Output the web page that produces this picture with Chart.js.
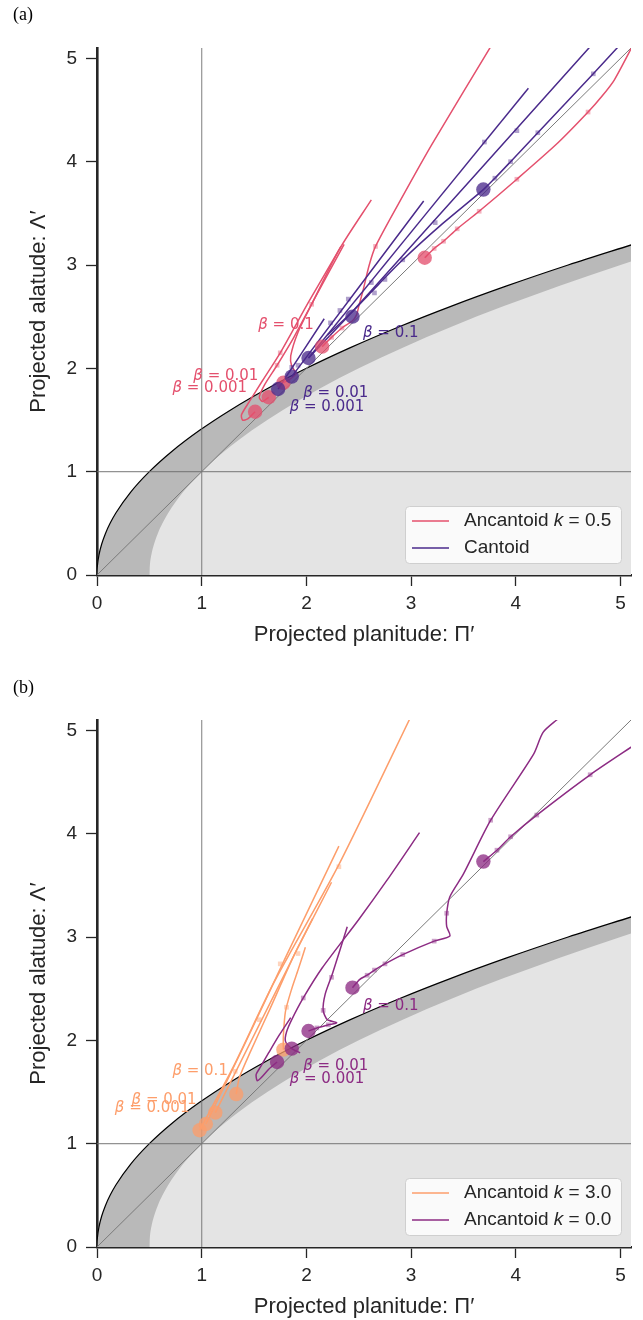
<!DOCTYPE html>
<html>
<head>
<meta charset="utf-8">
<script src="https://cdn.jsdelivr.net/npm/chart.js@4.4.1/dist/chart.umd.min.js"></script>
<style>
  html, body { margin: 0; padding: 0; background: #fff; }
  #wrap { position: relative; width: 643px; height: 1320px; overflow: hidden; }
  .panel { position: absolute; left: 0; width: 643px; }
  .tag { position: absolute; left: 13px; font-family: "Liberation Serif", "Times New Roman", serif; font-size: 18px; color: #000; line-height: 1; }
</style>
</head>
<body>
<div id="wrap">
  <div class="panel" style="top:0;height:672px"><canvas id="panelA" width="643" height="672"></canvas></div>
  <div class="panel" style="top:672px;height:648px"><canvas id="panelB" width="643" height="648"></canvas></div>
  <div class="tag" style="top:5px">(a)</div>
  <div class="tag" style="top:678px">(b)</div>
</div>
<script>
// ---- axis ticks (both panels) ----
const axisTicks = [0, 1, 2, 3, 4, 5];

// ---- edges of the shaded region, [Π′, Λ′] ----
const upperEdge = [[0,0],[0.00125,0.05],[0.005,0.1],[0.02,0.2],[0.045,0.3],[0.08,0.4],[0.125,0.5],[0.18,0.6],[0.32,0.8],[0.5,1.0],[0.72,1.2],[0.98,1.4],[1.28,1.6],[1.62,1.8],[2.0,2.0],[2.42,2.2],[2.88,2.4],[3.38,2.6],[3.92,2.8],[4.5,3.0],[5.12,3.2]];
const lowerEdge = [[0.5,0],[0.50125,0.05],[0.505,0.1],[0.52,0.2],[0.545,0.3],[0.58,0.4],[0.625,0.5],[0.68,0.6],[0.82,0.8],[1.0,1.0],[1.22,1.2],[1.48,1.4],[1.78,1.6],[2.12,1.8],[2.5,2.0],[2.92,2.2],[3.38,2.4],[3.88,2.6],[4.42,2.8],[5.0,3.0],[5.62,3.2]];
const diagonal = [[0,0],[5.1,5.1]];
const unitPlanitude = [[1,0],[1,5.1]];
const unitAlatude = [[0,1],[5.1,1]];

// ---- panel (a): Ancantoid k = 0.5 ----
const ancantoidHalfPaths = [
  [[1.51,1.58],[1.44,1.51],[1.39,1.50],[1.38,1.55],[1.45,1.67],[1.58,1.88],[1.75,2.15],[2.02,2.64],[2.33,3.18]],
  [[1.64,1.72],[1.58,1.68],[1.55,1.72],[1.60,1.84],[1.72,2.03],[1.88,2.30],[2.07,2.66],[2.36,3.20]],
  [[1.78,1.86],[1.85,1.90],[1.90,1.95],[1.86,2.02],[1.85,2.12],[1.92,2.35],[2.05,2.62],[2.32,3.16],[2.62,3.63]],
  [[2.15,2.21],[2.24,2.30],[2.34,2.39],[2.44,2.46],[2.48,2.52],[2.50,2.60],[2.54,2.75],[2.60,3.00],[2.66,3.18],[2.90,3.63],[3.20,4.17],[3.80,5.18]],
  [[3.13,3.07],[3.22,3.16],[3.31,3.23],[3.44,3.35],[3.65,3.52],[4.01,3.83],[4.40,4.18],[4.69,4.48],[4.82,4.63],[4.94,4.79],[5.13,5.15]]
];
const ancantoidHalfDots = [[1.51,1.58],[1.64,1.72],[1.78,1.86],[2.15,2.21],[3.13,3.07]];
const ancantoidHalfTicks = [[1.75,2.15],[1.72,2.03],[2.05,2.62],[2.24,2.30],[2.34,2.39],[2.66,3.18],[3.22,3.16],[3.31,3.23],[3.44,3.35],[3.65,3.52],[4.01,3.83],[4.69,4.48]];

// ---- panel (a): Cantoid ----
const cantoidPaths = [
  [[1.73,1.80],[2.17,2.48]],
  [[1.86,1.92],[3.12,3.62]],
  [[2.02,2.10],[4.12,4.71]],
  [[2.02,2.10],[2.44,2.55],[4.76,5.17]],
  [[2.20,2.32],[2.45,2.56],[2.62,2.74],[2.92,3.05],[3.30,3.40],[3.69,3.73],[3.80,3.84],[3.95,4.00],[4.21,4.28],[4.74,4.85],[5.03,5.17]]
];
const cantoidDots = [[1.73,1.80],[1.86,1.92],[2.02,2.10],[2.44,2.50],[3.69,3.73]];
const cantoidTicks = [[1.86,2.01],[1.92,2.03],[2.23,2.44],[2.32,2.56],[2.40,2.67],[2.62,2.83],[2.65,2.73],[2.75,2.86],[2.92,3.05],[3.23,3.41],[3.70,4.19],[4.01,4.30],[3.80,3.84],[3.95,4.00],[4.21,4.28],[4.74,4.85]];

// ---- panel (b): Ancantoid k = 3.0 ----
const ancantoidThreePaths = [
  [[0.98,1.13],[1.30,1.74],[1.69,2.56],[2.31,3.70],[3.02,5.18]],
  [[1.04,1.19],[1.40,1.94],[1.80,2.80],[2.31,3.88]],
  [[1.13,1.30],[1.50,2.05],[1.90,2.86],[2.24,3.53]],
  [[1.33,1.48],[1.36,1.64],[1.47,1.90],[1.65,2.30],[1.88,2.82],[2.06,3.18]],
  [[1.78,1.91],[1.78,2.04],[1.80,2.28],[1.86,2.50],[1.92,2.68],[1.99,2.90]]
];
const ancantoidThreeDots = [[0.98,1.13],[1.04,1.19],[1.13,1.30],[1.33,1.48],[1.78,1.91]];
const ancantoidThreeTicks = [[1.32,1.70],[1.55,2.20],[1.75,2.74],[1.81,2.32],[1.92,2.84],[2.31,3.68]];

// ---- panel (b): Ancantoid k = 0.0 ----
const ancantoidZeroPaths = [
  [[1.72,1.79],[1.64,1.72],[1.56,1.63],[1.53,1.61],[1.52,1.67],[1.56,1.74],[1.64,1.88],[1.74,2.05],[1.85,2.22]],
  [[1.94,1.88],[1.86,1.92],[1.80,1.99],[1.81,2.08],[1.86,2.20],[1.97,2.41],[2.15,2.70],[2.50,3.17],[2.77,3.55],[3.08,4.01]],
  [[2.02,2.09],[2.10,2.12],[2.21,2.15],[2.29,2.17],[2.20,2.20],[2.16,2.29],[2.18,2.45],[2.25,2.65],[2.39,3.10]],
  [[2.44,2.51],[2.51,2.59],[2.58,2.63],[2.65,2.68],[2.75,2.74],[2.92,2.83],[3.22,2.96],[3.37,3.01],[3.34,3.10],[3.34,3.23],[3.37,3.39],[3.50,3.61],[3.76,4.13],[4.17,4.77],[4.26,4.98],[4.39,5.10],[4.47,5.16]],
  [[3.69,3.73],[3.82,3.84],[3.95,3.97],[4.20,4.18],[4.71,4.57],[5.15,4.87]]
];
const ancantoidZeroDots = [[1.72,1.79],[1.86,1.92],[2.02,2.09],[2.44,2.51],[3.69,3.73]];
const ancantoidZeroTicks = [[2.10,2.12],[2.21,2.15],[1.97,2.41],[2.24,2.61],[2.16,2.29],[2.58,2.63],[2.65,2.68],[2.75,2.74],[2.92,2.83],[3.22,2.96],[3.34,3.23],[3.76,4.13],[3.82,3.84],[3.95,3.97],[4.20,4.18],[4.71,4.57]];

// ---- β annotations: value and anchor (left, middle) in data units ----
const betaValues = ['0.1', '0.01', '0.001'];
const betaSpotsHalf = [[1.54,2.42],[0.92,1.92],[0.72,1.81]];
const betaSpotsCantoid = [[2.54,2.34],[1.97,1.76],[1.84,1.62]];
const betaSpotsThree = [[0.72,1.70],[0.33,1.42],[0.17,1.34]];
const betaSpotsZero = [[2.54,2.33],[1.97,1.75],[1.84,1.62]];

// ---- colours ----
const PINK = '#e4506d';
const INDIGO = '#4a2a8b';
const ORANGE = '#fd9e6b';
const PLUM = '#8c2b83';
const INK = '#262626';

const familyHalf = { name: 'Ancantoid', k: '0.5', color: PINK, paths: ancantoidHalfPaths, dots: ancantoidHalfDots, ticks: ancantoidHalfTicks, spots: betaSpotsHalf };
const familyCantoid = { name: 'Cantoid', k: null, color: INDIGO, paths: cantoidPaths, dots: cantoidDots, ticks: cantoidTicks, spots: betaSpotsCantoid };
const familyThree = { name: 'Ancantoid', k: '3.0', color: ORANGE, paths: ancantoidThreePaths, dots: ancantoidThreeDots, ticks: ancantoidThreeTicks, spots: betaSpotsThree };
const familyZero = { name: 'Ancantoid', k: '0.0', color: PLUM, paths: ancantoidZeroPaths, dots: ancantoidZeroDots, ticks: ancantoidZeroTicks, spots: betaSpotsZero };

const toPts = arr => arr.map(([x, y]) => ({ x, y }));

function backgroundDatasets() {
  return [
    { data: toPts(upperEdge), borderColor: '#000', borderWidth: 1.2, backgroundColor: '#b9b9b9', fill: 'origin', pointRadius: 0, cubicInterpolationMode: 'monotone', order: 100 },
    { data: toPts(lowerEdge), borderColor: 'rgba(0,0,0,0)', borderWidth: 0, backgroundColor: '#e4e4e4', fill: 'origin', pointRadius: 0, cubicInterpolationMode: 'monotone', order: 99 },
    { data: toPts(unitPlanitude), borderColor: 'rgba(110,110,110,0.75)', borderWidth: 1.2, pointRadius: 0, fill: false, order: 90 },
    { data: toPts(unitAlatude), borderColor: 'rgba(110,110,110,0.75)', borderWidth: 1.2, pointRadius: 0, fill: false, order: 90 },
    { data: toPts(diagonal), borderColor: '#7a7a7a', borderWidth: 1, pointRadius: 0, fill: false, order: 89 }
  ];
}

function familyDatasets(fam, depth) {
  const out = [];
  fam.paths.forEach(p => out.push({
    data: toPts(p), borderColor: fam.color, borderWidth: 1.5, pointRadius: 0,
    tension: 0.25, fill: false, order: 60 - depth
  }));
  out.push({ data: toPts(fam.ticks), showLine: false, pointStyle: 'rect', pointRadius: 3.3,
    pointBackgroundColor: fam.color + '70', pointBorderWidth: 0, order: 40 - depth });
  out.push({ data: toPts(fam.dots), showLine: false, pointStyle: 'circle', pointRadius: 7.2,
    pointBackgroundColor: fam.color + 'c4', pointBorderWidth: 0, order: 30 - depth });
  return out;
}

// β labels and the legend box
const overlay = {
  id: 'overlay',
  afterDatasetsDraw(chart, args, opts) {
    const { ctx, chartArea } = chart;
    const xs = chart.scales.x, ys = chart.scales.y;
    ctx.save();
    ctx.textBaseline = 'middle';
    ctx.textAlign = 'left';
    for (const fam of opts.families) {
      fam.spots.forEach((spot, i) => {
        let px = xs.getPixelForValue(spot[0]);
        const py = ys.getPixelForValue(spot[1]);
        ctx.fillStyle = fam.color;
        ctx.font = 'italic 15px "DejaVu Sans"';
        ctx.fillText('β', px, py);
        px += ctx.measureText('β').width;
        ctx.font = '15px "DejaVu Sans"';
        ctx.fillText(' = ' + betaValues[i], px, py);
      });
    }
    // legend
    const w = 216, h = 57;
    const bx = chartArea.right - 10 - w, by = chartArea.bottom - 12 - h;
    ctx.beginPath();
    ctx.roundRect(bx + 0.5, by + 0.5, w, h, 4);
    ctx.fillStyle = 'rgba(255,255,255,0.8)';
    ctx.fill();
    ctx.strokeStyle = '#cfcfcf';
    ctx.lineWidth = 1;
    ctx.stroke();
    opts.families.forEach((fam, i) => {
      const ry = by + 15 + i * 27;
      ctx.beginPath();
      ctx.moveTo(bx + 7, ry);
      ctx.lineTo(bx + 44, ry);
      ctx.strokeStyle = fam.color;
      ctx.lineWidth = 1.5;
      ctx.stroke();
      ctx.fillStyle = INK;
      let tx = bx + 59;
      ctx.font = '19px "Liberation Sans"';
      const head = fam.k ? fam.name + ' ' : fam.name;
      ctx.fillText(head, tx, ry);
      if (fam.k) {
        tx += ctx.measureText(head).width;
        ctx.font = 'italic 19px "Liberation Sans"';
        ctx.fillText('k', tx, ry);
        tx += ctx.measureText('k').width;
        ctx.font = '19px "Liberation Sans"';
        ctx.fillText(' = ' + fam.k, tx, ry);
      }
    });
    ctx.restore();
  }
};

function axisOptions(axis, titleText) {
  const horiz = axis === 'x';
  return {
    type: 'linear', min: 0, max: 5.1,
    afterBuildTicks: s => { s.ticks = axisTicks.map(v => ({ value: v })); },
    afterFit: s => { if (horiz) s.height = 73; else s.width = 97; },
    ticks: { color: INK, font: { family: 'Liberation Sans', size: 19 }, padding: horiz ? 6 : 9, maxRotation: 0 },
    grid: { display: true, drawOnChartArea: false, drawTicks: true, tickLength: 11, tickWidth: 1.3, tickColor: INK },
    border: { display: true, color: INK, width: 2.6 },
    title: { display: true, text: titleText, color: INK, font: { family: 'Liberation Sans', size: 22 },
      padding: horiz ? { top: 0, bottom: 0 } : { top: 26, bottom: 0 } }
  };
}

function buildPanel(canvasId, families, bottomPad) {
  const datasets = backgroundDatasets();
  families.forEach((fam, i) => datasets.push(...familyDatasets(fam, i)));
  return new Chart(document.getElementById(canvasId), {
    type: 'line',
    data: { datasets },
    options: {
      responsive: false,
      animation: false,
      events: [],
      layout: { padding: { left: 0, right: 12, top: 48, bottom: bottomPad } },
      scales: {
        x: axisOptions('x', 'Projected planitude: Π′'),
        y: axisOptions('y', 'Projected alatude: Λ′')
      },
      plugins: {
        legend: { display: false },
        tooltip: { enabled: false },
        overlay: { families }
      }
    },
    plugins: [overlay]
  });
}

buildPanel('panelA', [familyHalf, familyCantoid], 24);
buildPanel('panelB', [familyThree, familyZero], 0);
</script>
</body>
</html>
